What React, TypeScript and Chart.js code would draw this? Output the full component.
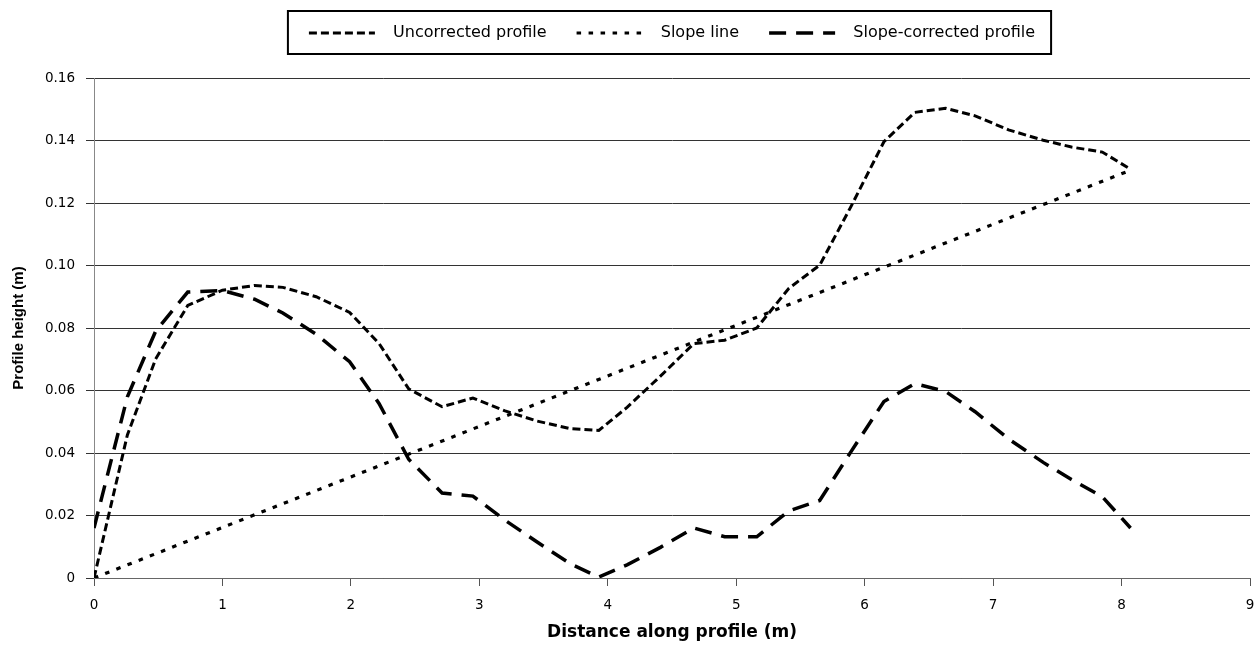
import React, { useEffect, useRef } from 'react';
import { Chart, registerables } from 'chart.js';

Chart.register(...registerables);

// Distance along profile (m)
const distance = [0, 0.26, 0.48, 0.73, 1.0, 1.25, 1.47, 1.73, 1.99, 2.22, 2.45, 2.71, 2.95, 3.2, 3.45, 3.71, 3.93, 4.15, 4.41, 4.67, 4.91, 5.16, 5.41, 5.65, 5.89, 6.15, 6.39, 6.63, 6.86, 7.12, 7.39, 7.61, 7.85, 8.07];
// Uncorrected profile height (m)
const uncorrected = [0, 0.0458, 0.0701, 0.0872, 0.0921, 0.0936, 0.093, 0.09, 0.085, 0.075, 0.0605, 0.0548, 0.0576, 0.0535, 0.0502, 0.0478, 0.0472, 0.0546, 0.0646, 0.075, 0.0761, 0.08, 0.0927, 0.1001, 0.1186, 0.1396, 0.149, 0.1503, 0.1479, 0.1434, 0.1401, 0.1379, 0.1363, 0.1308];
// Slope-corrected profile height (m)
const slopeCorrected = [0.016, 0.058, 0.079, 0.0915, 0.092, 0.0892, 0.0848, 0.078, 0.0692, 0.0558, 0.038, 0.0272, 0.0262, 0.0185, 0.0115, 0.0045, 0.0003, 0.0042, 0.0098, 0.016, 0.0132, 0.0132, 0.0215, 0.0248, 0.0402, 0.0565, 0.0622, 0.0597, 0.0532, 0.0445, 0.037, 0.0315, 0.026, 0.016];
// Slope line end points
const slopeDistance = [0, 8.07];
const slopeHeight = [0, 0.1305];

const seriesLabels = ['Uncorrected profile', 'Slope line', 'Slope-corrected profile'];

const toPoints = (xs: number[], ys: number[]) => xs.map((x, i) => ({ x, y: ys[i] }));

const legendFrame = {
  id: 'legendFrame',
  afterInit(chart: any) {
    const lg = chart.legend;
    if (lg && !lg.__patched) {
      const orig = lg.fit;
      lg.fit = function () {
        orig.call(this);
        this.height += 27;
      };
      lg.__patched = true;
    }
  },
  afterDraw(chart: any) {
    const lg = chart.legend;
    if (!lg || !lg.legendHitBoxes || !lg.legendHitBoxes.length) return;
    const hb = lg.legendHitBoxes;
    const first = hb[0];
    const last = hb[hb.length - 1];
    const cy = first.top + first.height / 2;
    const left = first.left - 21;
    const right = last.left + last.width + 16;
    const top = cy - 22;
    const bottom = cy + 21;
    const ctx = chart.ctx;
    ctx.save();
    ctx.strokeStyle = '#000';
    ctx.lineWidth = 2;
    ctx.setLineDash([]);
    ctx.strokeRect(left, top, right - left, bottom - top);
    ctx.restore();
  },
};

export default function App() {
  const ref = useRef<HTMLCanvasElement | null>(null);

  useEffect(() => {
    if (!ref.current) return;
    Chart.defaults.color = '#000';
    const chart = new Chart(ref.current, {
      type: 'line',
      data: {
        datasets: [
          {
            label: seriesLabels[0],
            data: toPoints(distance, uncorrected),
            borderColor: '#000',
            backgroundColor: '#000',
            borderWidth: 3,
            borderDash: [8, 4],
            pointRadius: 0,
            pointStyle: 'line',
            tension: 0,
            fill: false,
          },
          {
            label: seriesLabels[1],
            data: toPoints(slopeDistance, slopeHeight),
            borderColor: '#000',
            backgroundColor: '#000',
            borderWidth: 3.2,
            borderDash: [4.5, 7.5],
            pointRadius: 0,
            pointStyle: 'line',
            fill: false,
          },
          {
            label: seriesLabels[2],
            data: toPoints(distance, slopeCorrected),
            borderColor: '#000',
            backgroundColor: '#000',
            borderWidth: 3.5,
            borderDash: [17, 10],
            pointRadius: 0,
            pointStyle: 'line',
            tension: 0,
            fill: false,
          },
        ],
      },
      options: {
        animation: false,
        responsive: true,
        maintainAspectRatio: false,
        layout: { padding: { top: -5, left: 0, right: 8, bottom: 0 } },
        plugins: {
          tooltip: { enabled: false },
          legend: {
            display: true,
            position: 'top',
            fullSize: false,
            labels: {
              usePointStyle: true,
              pointStyleWidth: 66,
              boxHeight: 16,
              padding: 30,
              color: '#000',
              font: { family: "'DejaVu Sans', sans-serif", size: 16 },
              generateLabels(chart: any) {
                const items = (Chart.defaults.plugins.legend.labels as any).generateLabels(chart);
                return items.map((it: any) => {
                  const ds = chart.data.datasets[it.datasetIndex];
                  return {
                    ...it,
                    text: '  ' + it.text,
                    lineDash: ds.borderDash,
                    lineWidth: ds.borderWidth,
                    strokeStyle: '#000',
                    fillStyle: '#000',
                  };
                });
              },
            },
          },
        },
        scales: {
          x: {
            type: 'linear',
            min: 0,
            max: 9,
            afterFit(scale: any) {
              scale.height = 68;
              scale.paddingRight = 8;
              scale.paddingLeft = 0;
            },
            ticks: {
              stepSize: 1,
              padding: 11,
              color: '#000',
              font: { family: "'DejaVu Sans', sans-serif", size: 13.5 },
            },
            grid: {
              drawOnChartArea: false,
              drawTicks: true,
              tickLength: 8,
              color: '#555',
            },
            border: { color: '#666', width: 1 },
            title: {
              display: true,
              text: 'Distance along profile (m)',
              color: '#000',
              font: { family: "'DejaVu Sans', sans-serif", size: 17, weight: 'bold' },
              padding: { top: 0, bottom: 3 },
            },
          },
          y: {
            type: 'linear',
            min: 0,
            max: 0.16,
            afterFit(scale: any) {
              scale.width = 94;
            },
            ticks: {
              stepSize: 0.02,
              padding: 11,
              color: '#000',
              font: { family: "'DejaVu Sans', sans-serif", size: 13.5 },
              callback: (v: any) => (Number(v) === 0 ? '0' : Number(v).toFixed(2)),
            },
            grid: {
              drawTicks: true,
              tickLength: 8,
              color: '#333',
              lineWidth: 1,
            },
            border: { color: '#888', width: 1 },
            title: {
              display: true,
              text: 'Profile height (m)',
              color: '#000',
              font: { family: "'Liberation Sans', Arial, sans-serif", size: 15, weight: 'bold' },
              padding: { top: 10, bottom: 0 },
            },
          },
        },
      },
      plugins: [legendFrame],
    } as any);
    return () => chart.destroy();
  }, []);

  return (
    <div style={{ position: 'fixed', left: 0, top: 0, width: 1258, height: 646, background: '#fff' }}>
      <canvas ref={ref} />
    </div>
  );
}
